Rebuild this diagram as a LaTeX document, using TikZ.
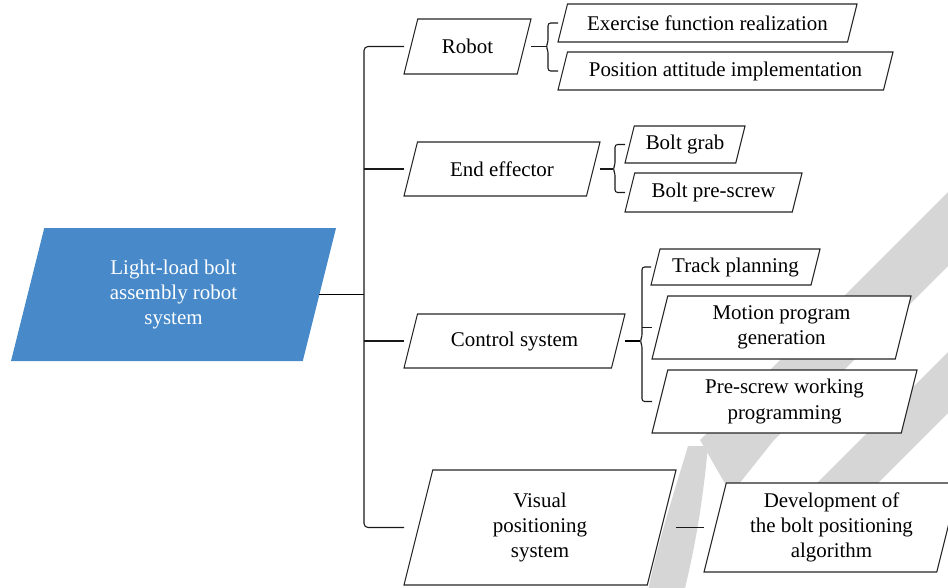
\documentclass[tikz,border=0pt]{standalone}
\usepackage{fontspec}
\setmainfont{Liberation Serif}
\usetikzlibrary{calc}

\definecolor{rootblue}{RGB}{71,137,201}
\definecolor{wmgray}{RGB}{214,214,214}

% box leaning right, slant a quarter of its height
\makeatletter
\pgfdeclareshape{slantbox}{%
  \inheritsavedanchors[from=rectangle]%
  \inheritanchorborder[from=rectangle]%
  \inheritanchor[from=rectangle]{center}%
  \inheritanchor[from=rectangle]{north}%
  \inheritanchor[from=rectangle]{south}%
  \inheritanchor[from=rectangle]{east}%
  \inheritanchor[from=rectangle]{west}%
  \inheritanchor[from=rectangle]{north east}%
  \inheritanchor[from=rectangle]{north west}%
  \inheritanchor[from=rectangle]{south east}%
  \inheritanchor[from=rectangle]{south west}%
  \inheritanchor[from=rectangle]{text}%
  \inheritanchor[from=rectangle]{base}%
  \inheritanchor[from=rectangle]{mid}%
  \backgroundpath{%
    \southwest \pgf@xa=\pgf@x \pgf@ya=\pgf@y
    \northeast \pgf@xb=\pgf@x \pgf@yb=\pgf@y
    \pgf@xc=\pgf@yb \advance\pgf@xc by -\pgf@ya
    \pgf@xc=0.25\pgf@xc
    \pgf@yc=\pgf@xb \advance\pgf@yc by -\pgf@xc
    \advance\pgf@xc by \pgf@xa
    \pgfpathmoveto{\pgfqpoint{\pgf@xa}{\pgf@ya}}%
    \pgfpathlineto{\pgfqpoint{\pgf@yc}{\pgf@ya}}%
    \pgfpathlineto{\pgfqpoint{\pgf@xb}{\pgf@yb}}%
    \pgfpathlineto{\pgfqpoint{\pgf@xc}{\pgf@yb}}%
    \pgfpathclose
  }%
}
\makeatother

\begin{document}
\begin{tikzpicture}[x=0.75pt,y=-0.75pt,
    para/.style 2 args={slantbox,draw=black!85,fill=white,line width=0.8pt,
        outer sep=0pt,inner sep=1pt,align=center,
        minimum width=#1*0.75pt,minimum height=#2*0.75pt,
        font=\fontsize{15.7}{18.8}\selectfont},
    link/.style={line width=0.8pt,black!90},
    fatlink/.style={line width=1.2pt,black},
    brace/.style={line width=0.8pt,black!90,rounded corners=2pt}]
    \useasboundingbox (0,0) rectangle (948,588);
    \clip (0,0) rectangle (948,588);

    % grey marks in the background
    \fill[wmgray] (990,150) -- (1064,150) -- (774,440) -- (731,494) -- (700,440) -- cycle;
    \fill[wmgray] (1000,300) -- (1061,300) -- (861,500) -- (800,500) -- cycle;
    \fill[wmgray] (688,446) -- (708,446) .. controls (703,500) and (695,550) .. (682,600)
        -- (646,600) .. controls (658,540) and (675,490) .. cycle;

    % boxes
    \node[para={325}{133},draw=none,fill=rootblue,text=white] (root) at (173.5,294.5) {Light-load bolt\\assembly robot\\system};

    \node[para={127}{55}] (robot) at (467.5,46.5) {Robot};
    \node[para={196}{54}] (endeff) at (502,169) {End effector};
    \node[para={221}{54}] (ctrl) at (514.5,341) {Control system};
    \node[para={272}{115}] (visual) at (540,527.5) {Visual\\positioning\\system};

    \node[para={299}{38}] (exer) at (707.5,23) {Exercise function realization};
    \node[para={335}{38}] (posi) at (725.5,71) {Position attitude implementation};
    \node[para={120}{37}] (grab) at (685,144.5) {Bolt grab};
    \node[para={177}{39}] (prescrew) at (713.5,192.5) {Bolt pre-screw};
    \node[para={169}{36}] (track) at (735.5,267) {Track planning};
    \node[para={259}{63}] (motion) at (781.5,327.5) {Motion program\\generation};
    \node[para={265}{63}] (prework) at (784.5,401.5) {Pre-screw working\\programming};
    \node[para={255}{89}] (dev) at (831.5,527.5) {Development of\\the bolt positioning\\algorithm};

    % main tree
    \coordinate (trunk) at (364,294.5);
    \draw[fatlink] ([xshift=-12.4pt]root.east) -- (trunk);
    \draw[link,rounded corners=3pt] (robot.south west |- robot) -| (trunk)
        |- (visual.south west |- visual);
    \draw[link] (trunk |- endeff) -- (endeff.south west |- endeff);
    \draw[link] (trunk |- ctrl) -- (ctrl.south west |- ctrl);

    % robot brace
    \coordinate (rbar) at (548,46.5);
    \coordinate (rnub) at (546,46.5);
    \draw[link] (robot.north east |- robot) -- (rnub);
    \draw[brace] (exer.south west |- exer) -| ($(rbar)+(0,-4)$) -- (rnub)
        -- ($(rbar)+(0,4)$) |- (posi.south west |- posi);

    % end effector brace
    \coordinate (ebar) at (615,169);
    \coordinate (enub) at (613,169);
    \draw[link] (endeff.north east |- endeff) -- (enub);
    \draw[brace] (grab.south west |- grab) -| ($(ebar)+(0,-4)$) -- (enub)
        -- ($(ebar)+(0,4)$) |- (prescrew.south west |- prescrew);

    % control brace
    \coordinate (cbar) at (642,341);
    \coordinate (cnub) at (640,341);
    \draw[fatlink] (ctrl.north east |- ctrl) -- (cnub);
    \draw[brace] (track.south west |- track) -| ($(cbar)+(0,-4)$) -- (cnub)
        -- ($(cbar)+(0,4)$) |- (prework.south west |- prework);
    \draw[link] (cbar |- motion) -- (motion.south west |- motion);

    % visual to algorithm
    \draw[link] (visual.north east |- visual) -- (dev.south west |- dev);
\end{tikzpicture}
\end{document}
